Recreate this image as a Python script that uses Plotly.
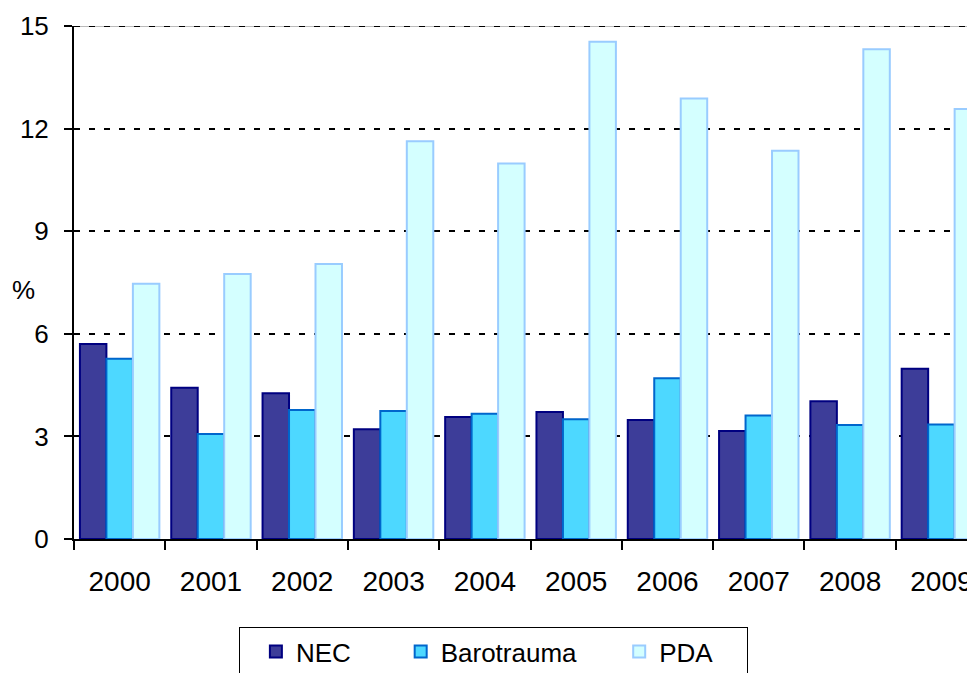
import plotly.graph_objects as go

# values (%)
years = ["2000", "2001", "2002", "2003", "2004", "2005", "2006", "2007", "2008", "2009"]
nec = [5.70, 4.42, 4.26, 3.21, 3.57, 3.71, 3.48, 3.16, 4.03, 4.98]
barotrauma = [5.27, 3.07, 3.77, 3.74, 3.66, 3.50, 4.70, 3.61, 3.33, 3.35]
pda = [7.46, 7.75, 8.04, 11.63, 10.98, 14.54, 12.88, 11.35, 14.32, 12.57]
y_ticks = [0, 3, 6, 9, 12, 15]

font_family = "Liberation Sans, Arial, sans-serif"
nb = "\u00a0"  # widen legend entries like the original

fig = go.Figure()

fig.add_trace(go.Bar(x=years, y=nec, name="NEC" + nb * 4,
                     marker=dict(color="#3d3d99", line=dict(color="#000080", width=2))))
fig.add_trace(go.Bar(x=years, y=barotrauma, name="Barotrauma" + nb * 3,
                     marker=dict(color="#4dd8ff", line=dict(color="#0066cc", width=2))))
fig.add_trace(go.Bar(x=years, y=pda, name="PDA" + nb * 4,
                     marker=dict(color="#d4ffff", line=dict(color="#99ccff", width=2))))

# line along the top of the plot area: thin solid with the dotted grid on top
fig.add_hline(y=15, line=dict(color="#777777", width=1), layer="below")
fig.add_hline(y=15, line=dict(color="black", width=2, dash="6px,9px"), layer="below")

# page body has an 8px margin, so the figure is sized/shifted to compensate
fig.update_layout(
    width=967,
    height=665,
    margin=dict(l=66, r=0, t=18, b=134, autoexpand=False),
    plot_bgcolor="white",
    paper_bgcolor="white",
    font=dict(family=font_family, color="black"),
    barmode="group",
    bargap=0.13,
    bargroupgap=0,
    showlegend=True,
    legend=dict(
        orientation="h",
        x=0.183, xanchor="left",
        y=-0.1715, yanchor="top",
        bordercolor="black", borderwidth=1,
        font=dict(size=26),
        indentation=16,
        traceorder="normal",
    ),
    annotations=[dict(text="%", x=-0.0555, y=0.485, xref="paper", yref="paper",
                      xanchor="center", yanchor="middle",
                      showarrow=False, font=dict(size=26))],
)

fig.update_xaxes(
    type="category",
    range=[-0.5, 9.368],
    automargin=False,
    showline=True, linecolor="black", linewidth=2,
    ticks="outside", tickson="boundaries", ticklen=9, tickwidth=2, tickcolor="black",
    tickfont=dict(size=28),
    ticklabelstandoff=16,
    showgrid=False,
)

fig.update_yaxes(
    range=[0, 15],
    tickvals=y_ticks,
    automargin=False,
    showline=True, linecolor="black", linewidth=2,
    ticks="outside", ticklen=8, tickwidth=2, tickcolor="black",
    tickfont=dict(size=26),
    ticklabelstandoff=10,
    showgrid=True, gridcolor="black", gridwidth=2, griddash="6px,9px",
    zeroline=False,
)

fig.write_html("out.html")
